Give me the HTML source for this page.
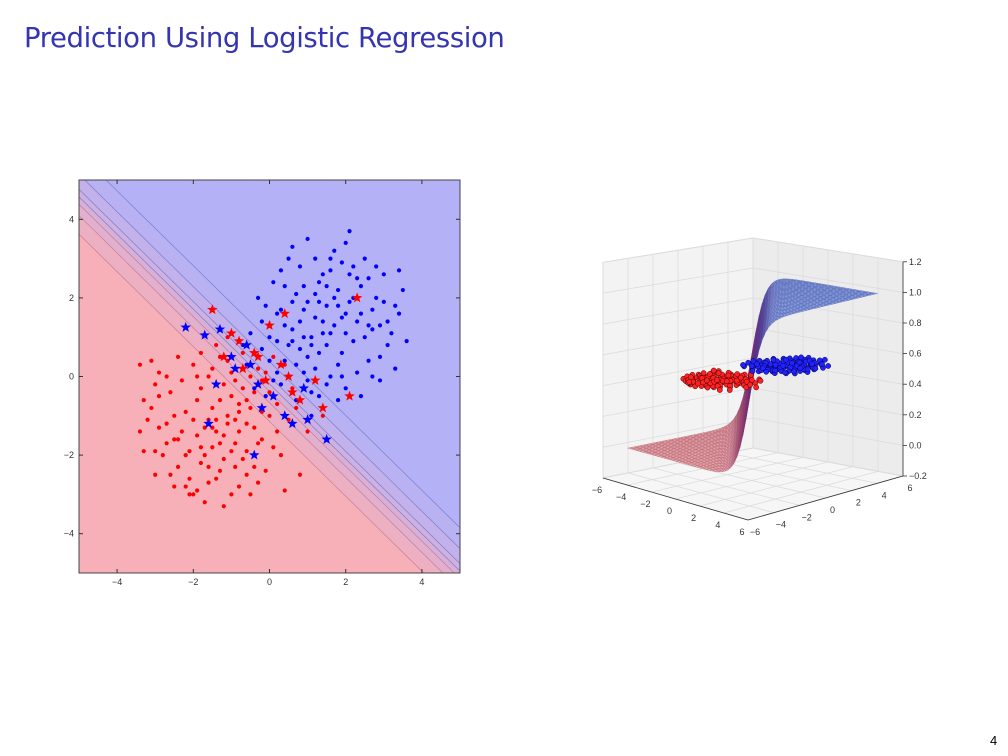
<!DOCTYPE html>
<html><head><meta charset="utf-8"><style>
html,body{margin:0;background:#fff;width:1008px;height:756px;overflow:hidden;font-family:"Liberation Sans",sans-serif}
#title{position:absolute;left:24px;top:22px;font-size:27.5px;color:#3535b0;font-family:"DejaVu Sans","Liberation Sans",sans-serif;font-weight:normal;letter-spacing:-0.4px;white-space:nowrap}
#pg{position:absolute;left:990px;top:733px;font-size:13px;line-height:15px}
svg{position:absolute;left:0;top:0;display:block}
</style></head><body>
<div id="title">Prediction Using Logistic Regression</div>
<div id="pg">4</div>
<svg id="s" width="1008" height="756"></svg>
<script>
const blueDots=[[1.2,1.5],[0.5,0.8],[2.1,1.9],[1.8,0.3],[0.2,1.6],[1.4,2.6],[2.7,1.2],[0.9,0.1],[-0.2,0.7],[1.6,1.1],[2.4,2.3],[0.7,2.1],[1.1,-0.4],[3.1,0.8],[0.3,-0.2],[1.9,2.9],[2.8,2.0],[0.6,1.2],[1.3,0.6],[2.2,0.9],[-0.5,1.1],[0.1,2.4],[1.7,3.2],[3.4,1.6],[2.0,-0.3],[0.8,2.8],[1.5,1.8],[2.6,0.4],[0.4,0.4],[1.0,3.5],[3.0,2.6],[-0.1,-0.5],[1.2,0.2],[2.3,1.4],[0.0,1.0],[1.8,2.2],[2.9,-0.1],[0.5,3.0],[1.4,-0.8],[3.5,2.2],[0.9,1.7],[2.1,2.6],[1.6,0.0],[-0.3,2.0],[2.5,3.0],[0.2,0.1],[1.1,1.0],[3.2,1.1],[1.9,1.5],[0.7,-0.6],[2.4,-0.5],[1.3,2.4],[0.6,1.9],[2.7,1.7],[-0.6,0.3],[1.0,0.5],[1.7,1.3],[3.6,0.9],[0.3,2.7],[2.0,3.4],[1.5,-0.2],[2.6,2.5],[0.8,0.7],[-0.2,1.4],[1.2,3.0],[3.3,0.2],[2.2,2.0],[0.4,1.3],[1.6,2.7],[2.9,1.3],[0.1,-0.1],[1.9,0.6],[2.3,0.1],[0.9,2.3],[1.4,1.4],[-0.4,-0.3],[2.8,2.8],[1.1,-1.0],[0.5,0.0],[3.0,1.9],[1.8,-0.6],[0.2,0.9],[2.5,1.0],[1.0,1.9],[1.7,2.0],[0.6,3.3],[3.4,2.7],[2.0,1.1],[1.3,-0.5],[0.0,0.4],[2.1,3.7],[1.5,0.8],[-0.7,0.8],[2.9,0.5],[0.8,1.4],[1.2,2.1],[3.1,1.4],[2.4,1.6],[0.3,1.7],[1.9,0.0],[0.7,0.3],[1.6,3.0],[2.7,0.0],[-0.1,1.8],[1.0,-0.1],[2.2,2.8],[1.4,1.1],[0.4,2.3],[3.3,1.8],[1.8,1.8],[1.1,0.8],[2.0,1.6],[0.6,0.9],[1.5,2.3],[2.6,1.3],[1.3,1.9],[0.9,1.0],[2.3,2.5]];
const redDots=[[-1.2,-1.5],[-0.5,-0.8],[-2.1,-1.9],[-1.8,-0.3],[-0.2,-1.6],[-1.4,-2.6],[-2.7,-1.2],[-0.9,-0.1],[0.2,-0.7],[-1.6,-1.1],[-2.4,-2.3],[-0.7,-2.1],[-1.1,0.4],[-3.1,-0.8],[-0.3,0.2],[-1.9,-2.9],[-2.8,-2.0],[-0.6,-1.2],[-1.3,-0.6],[-2.2,-0.9],[0.5,-1.1],[-0.1,-2.4],[-1.7,-3.2],[-3.4,-1.4],[-2.0,0.3],[-0.8,-2.8],[-1.5,-1.8],[-2.6,-0.4],[-0.4,-0.4],[-1.0,-3.0],[-3.0,-2.5],[0.1,0.5],[-1.2,-0.2],[-2.3,-1.4],[0.0,-1.0],[-1.8,-2.2],[-2.9,0.1],[-0.5,-3.0],[-1.4,0.8],[-3.3,-1.9],[-0.9,-1.7],[-2.1,-2.6],[-1.6,0.0],[0.3,-2.0],[-2.5,-2.8],[-0.2,-0.1],[-1.1,-1.0],[-3.2,-1.1],[-1.9,-1.5],[-0.7,0.6],[-2.4,0.5],[-1.3,-2.4],[-0.6,-1.9],[-2.7,-1.7],[0.6,-0.3],[-1.0,-0.5],[-1.7,-1.3],[-3.3,-0.6],[-0.3,-2.7],[-2.0,-3.0],[-1.5,0.2],[-2.6,-2.5],[-0.8,-0.7],[0.2,-1.4],[-1.2,-3.3],[-3.0,-0.2],[-2.2,-2.0],[-0.4,-1.3],[-1.6,-2.7],[-2.9,-1.3],[-0.1,0.1],[-1.9,-0.6],[-2.3,-0.1],[-0.9,-2.3],[-1.4,-1.4],[0.4,0.3],[-2.5,-1.6],[-1.1,1.0],[-0.5,0.0],[-3.0,-1.9],[-1.8,0.6],[-0.2,-0.9],[-2.5,-1.0],[-1.0,-1.9],[-1.7,-2.0],[-0.6,-2.5],[-3.4,0.3],[-2.0,-1.1],[-1.3,0.5],[0.0,-0.4],[-2.1,-3.0],[-1.5,-0.8],[0.7,-0.8],[-2.9,-0.5],[-0.8,-1.4],[-1.2,-2.1],[-3.1,0.4],[-2.4,-1.6],[-0.3,-1.7],[-1.9,0.0],[-0.7,-0.3],[-1.6,-2.3],[-2.7,0.0],[0.1,-1.8],[-1.0,0.1],[-2.2,-2.8],[-1.4,-1.1],[-0.4,-2.3],[1.0,-1.4],[-1.8,-1.8],[0.8,-2.5],[1.4,-1.0],[0.4,-2.9],[-1.1,-1.2],[-0.8,-0.9],[-1.3,-1.7],[-0.6,-0.6],[-1.5,-1.3],[-0.9,-1.1]];
const redStars=[[-1.5,1.7],[-0.4,0.6],[-1.0,1.1],[0.0,1.3],[0.5,0.0],[-0.3,0.5],[-0.7,0.2],[0.8,-0.6],[1.2,-0.1],[2.3,2.0],[1.4,-0.8],[-0.8,0.9],[0.4,1.6],[0.6,-0.4],[-0.1,-0.1],[0.3,0.3],[-1.2,0.5],[2.1,-0.5]];
const blueStars=[[-2.2,1.25],[-1.7,1.05],[-1.0,0.5],[-1.3,1.2],[-0.9,0.2],[-0.6,0.8],[-0.3,-0.2],[0.1,-0.5],[0.4,-1.0],[0.6,-1.2],[1.0,-1.1],[1.5,-1.6],[-0.4,-2.0],[-1.6,-1.2],[-1.4,-0.2],[-0.2,-0.8],[0.9,-0.3],[-0.5,0.3]];
const contourLevels=[-1.2,-0.7,-0.4,-0.2,0,0.4,0.96];
const xTicks=[-4,-2,0,2,4], yTicks=[-4,-2,0,2,4];
const zTicks=[-0.2,0.0,0.2,0.4,0.6,0.8,1.0,1.2];
const axTicks3=[-6,-4,-2,0,2,4,6];

const S=document.getElementById('s');const NS='http://www.w3.org/2000/svg';
function el(t,a,p){const e=document.createElementNS(NS,t);for(const k in a)e.setAttribute(k,a[k]);(p||S).appendChild(e);return e;}
const L=79,R=460,T=180,B=573;
const sx=v=>L+(v+5)/10*(R-L), sy=v=>B-(v+5)/10*(B-T);
const g2=el('g',{});
const defs=el('defs',{});const cp=el('clipPath',{id:'cp'},defs);el('rect',{x:L,y:T,width:R-L,height:B-T},cp);
const bg=el('g',{'clip-path':'url(#cp)'},g2);
el('rect',{x:L,y:T,width:R-L,height:B-T,fill:'#b4b1f6'},bg);
const f=(a,c)=>(c-a)/1.05;
function band(c1,c2,col){
  const pts=[[-6,f(-6,c1)],[6,f(6,c1)],[6,f(6,c2)],[-6,f(-6,c2)]].map(p=>sx(p[0])+','+sy(p[1])).join(' ');
  el('polygon',{points:pts,fill:col},bg);
}
const bandCols=['#f7b0b8','#ecb0c2','#e2b0cc','#d7b0d7','#cdb1e0','#c2b1ea','#b8b1f2','#b4b1f6'];
const lv=[-20].concat(contourLevels).concat([20]);
for(let i=0;i<lv.length-1;i++)band(lv[i],lv[i+1],bandCols[i]);
contourLevels.forEach((c,i)=>{const l=el('line',{x1:sx(-6),y1:sy(f(-6,c)),x2:sx(6),y2:sy(f(6,c)),stroke:i<3?'#c07090':'#7070c8','stroke-width':0.7,opacity:0.8},bg);});
function star(cx,cy,r,col,p){let s='';for(let i=0;i<10;i++){const a=-Math.PI/2+i*Math.PI/5,rr=i%2?r*0.42:r;s+=(cx+rr*Math.cos(a))+','+(cy+rr*Math.sin(a))+' ';}return el('polygon',{points:s,fill:col},p);}
redDots.forEach(p=>{const c=el('circle',{cx:sx(p[0]),cy:sy(p[1]),r:2.1,fill:'#f00'},bg);});
blueDots.forEach(p=>{const c=el('circle',{cx:sx(p[0]),cy:sy(p[1]),r:2.1,fill:'#00f'},bg);});
redStars.forEach(p=>{const c=star(sx(p[0]),sy(p[1]),5.5,'#f00',bg);});
blueStars.forEach(p=>{const c=star(sx(p[0]),sy(p[1]),5.5,'#00f',bg);});
el('rect',{x:L,y:T,width:R-L,height:B-T,fill:'none',stroke:'#444','stroke-width':1},g2);
xTicks.forEach(v=>{el('line',{x1:sx(v),x2:sx(v),y1:B,y2:B-4,stroke:'#333'},g2);el('line',{x1:sx(v),x2:sx(v),y1:T,y2:T+4,stroke:'#333'},g2);
  const t=el('text',{x:sx(v),y:B+12,'font-size':9,'text-anchor':'middle',fill:'#333'},g2);t.textContent=(v<0?'\u2212'+(-v):v);});
yTicks.forEach(v=>{el('line',{x1:L,x2:L+4,y1:sy(v),y2:sy(v),stroke:'#333'},g2);el('line',{x1:R,x2:R-4,y1:sy(v),y2:sy(v),stroke:'#333'},g2);
  const t=el('text',{x:L-5,y:sy(v)+3,'font-size':9,'text-anchor':'end',fill:'#333'},g2);t.textContent=(v<0?'\u2212'+(-v):v);});
const CF=[748,520,158],CL=[603,478,154],CR=[903,476,153],CB=[753,448,150];
function P(a,b,z){const u=(6-a)/12,v=(b+6)/12;
  const m=i=>(1-u)*(1-v)*CF[i]+u*(1-v)*CL[i]+(1-u)*v*CR[i]+u*v*CB[i];
  return [m(0),m(1)-(z+0.2)*m(2)];}
const g3=el('g',{});
const poly=(pts,a)=>el('polygon',Object.assign({points:pts.map(p=>p.join(',')).join(' ')},a),g3);
const lw=poly([P(-6,-6,-0.2),P(-6,6,-0.2),P(-6,6,1.2),P(-6,-6,1.2)],{fill:'#f3f3f3',stroke:'#ddd'});
const rw=poly([P(-6,6,-0.2),P(6,6,-0.2),P(6,6,1.2),P(-6,6,1.2)],{fill:'#ececec',stroke:'#ddd'});
const fl=poly([P(-6,-6,-0.2),P(6,-6,-0.2),P(6,6,-0.2),P(-6,6,-0.2)],{fill:'#f6f6f6',stroke:'#ddd'});
const gl=(p,q)=>el('line',{x1:p[0],y1:p[1],x2:q[0],y2:q[1],stroke:'#dcdcdc','stroke-width':0.8},g3);
axTicks3.forEach(v=>{gl(P(v,-6,-0.2),P(v,6,-0.2));gl(P(-6,v,-0.2),P(6,v,-0.2));gl(P(-6,v,-0.2),P(-6,v,1.2));gl(P(v,6,-0.2),P(v,6,1.2));});
zTicks.forEach(z=>{gl(P(-6,-6,z),P(-6,6,z));gl(P(-6,6,z),P(6,6,z));});
const N=40,k=1.9,quads=[];
for(let i=0;i<N;i++)for(let j=0;j<N;j++){const a0=-5+10*i/N,a1=-5+10*(i+1)/N,b0=-5+10*j/N,b1=-5+10*(j+1)/N;quads.push([a0,a1,b0,b1]);}
quads.sort((q,r)=>(q[0]-q[3])-(r[0]-r[3]));
const sig=(a,b)=>1/(1+Math.exp(-k*(a+b)));
quads.forEach(q=>{const zc=sig((q[0]+q[1])/2,(q[2]+q[3])/2);
  const rr=Math.round(244-95*zc),gg=Math.round(178-25*Math.sin(Math.PI*zc)),bb=Math.round(178+62*zc);
  poly([P(q[0],q[2],sig(q[0],q[2])),P(q[1],q[2],sig(q[1],q[2])),P(q[1],q[3],sig(q[1],q[3])),P(q[0],q[3],sig(q[0],q[3]))],
   {fill:`rgb(${rr},${gg},${bb})`,stroke:`rgb(${rr-90},${gg-110},${bb-90})`,'stroke-width':0.35,'stroke-opacity':0.7});});
redDots.forEach(p=>{const s=P(p[0],p[1],0.45);const c=el('circle',{cx:s[0],cy:s[1],r:2.6,fill:'#f22',stroke:'#400','stroke-width':0.5},g3);});
blueDots.forEach(p=>{const s=P(p[0],p[1],0.55);const c=el('circle',{cx:s[0],cy:s[1],r:2.6,fill:'#22f',stroke:'#004','stroke-width':0.5},g3);});
const ax=(p,q)=>el('line',{x1:p[0],y1:p[1],x2:q[0],y2:q[1],stroke:'#333','stroke-width':0.8},g3);
ax(P(-6,-6,-0.2),P(6,-6,-0.2));ax(P(6,-6,-0.2),P(6,6,-0.2));ax(P(6,6,-0.2),P(6,6,1.2));
axTicks3.forEach(v=>{let s=P(v,-6,-0.2);let t=el('text',{x:s[0]-6,y:s[1]+15,'font-size':9,'text-anchor':'middle',fill:'#333'},g3);t.textContent=v<0?'\u2212'+(-v):v;
  s=P(6,v,-0.2);t=el('text',{x:s[0]+7,y:s[1]+15,'font-size':9,'text-anchor':'middle',fill:'#333'},g3);t.textContent=v<0?'\u2212'+(-v):v;});
zTicks.forEach(z=>{const s=P(6,6,z);ax(s,[s[0]+4,s[1]]);const t=el('text',{x:s[0]+6,y:s[1]+3,'font-size':9,fill:'#333'},g3);t.textContent=(z<0?'\u2212'+(-z).toFixed(1):z.toFixed(1));});
</script>
</body></html>
